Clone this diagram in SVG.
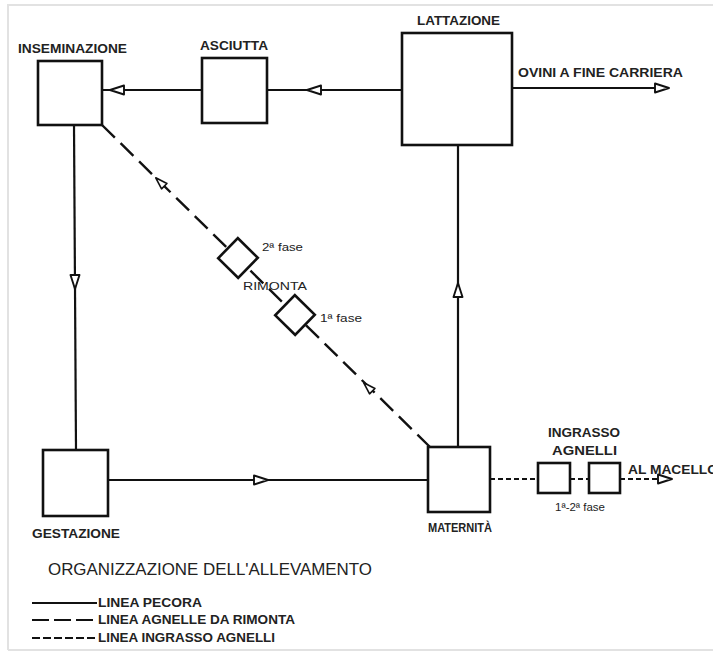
<svg xmlns="http://www.w3.org/2000/svg" xmlns:xlink="http://www.w3.org/1999/xlink" width="713" height="655" viewBox="0 0 713 655">
<style>
.box{fill:#fff;stroke:#111;stroke-width:2.6}
.ln{fill:none;stroke:#111;stroke-width:2.2}
.rim{stroke-dasharray:18 8;stroke-width:2.4}
.ing{stroke-dasharray:5 3}
.lbl{font-family:"Liberation Sans",Arial,sans-serif;font-weight:bold;font-size:12.5px;fill:#222}
.sm{font-family:"Liberation Sans",Arial,sans-serif;font-size:11.5px;fill:#222}
.title{font-family:"Liberation Sans",Arial,sans-serif;font-size:17px;fill:#222}
.leg{font-family:"Liberation Sans",Arial,sans-serif;font-weight:bold;font-size:12.5px;fill:#222}
</style>
<defs>
<path id="tri" d="M7,0 L-7,-4.5 L-7,4.5 Z" fill="#fff" stroke="#111" stroke-width="1.9" stroke-linejoin="round"/>
</defs>
<rect x="0" y="0" width="713" height="655" fill="#fff"/>
<path d="M8,650 L8,5 L713,5 M8,650 L713,650" fill="none" stroke="#e2e2e2" stroke-width="2"/>

<g id="connectors">
  <line class="ln" x1="202" y1="90" x2="102" y2="90"/>
  <use xlink:href="#tri" transform="translate(117,90) rotate(180)"/>
  <line class="ln" x1="402" y1="90" x2="267" y2="90"/>
  <use xlink:href="#tri" transform="translate(314,90) rotate(180)"/>
  <line class="ln" x1="512" y1="88" x2="662" y2="88"/>
  <use xlink:href="#tri" transform="translate(662,88)"/>
  <line class="ln" x1="458" y1="447" x2="458" y2="145"/>
  <use xlink:href="#tri" transform="translate(458,290) rotate(-90)"/>
  <line class="ln" x1="74" y1="125" x2="76" y2="450"/>
  <use xlink:href="#tri" transform="translate(75,282) rotate(90)"/>
  <line class="ln" x1="108" y1="480" x2="428" y2="480"/>
  <use xlink:href="#tri" transform="translate(261,480)"/>
  <line class="ln rim" x1="102" y1="125" x2="430" y2="447"/>
  <use xlink:href="#tri" transform="translate(160,182) rotate(224.5) scale(0.85)"/>
  <use xlink:href="#tri" transform="translate(368,387) rotate(224.5) scale(0.85)"/>
  <line class="ln ing" x1="490" y1="479" x2="538" y2="479"/>
  <line class="ln ing" x1="570" y1="479" x2="589" y2="479"/>
  <line class="ln ing" x1="620" y1="479" x2="660" y2="479"/>
  <use xlink:href="#tri" transform="translate(665,479)"/>
</g>

<g id="inseminazione">
  <rect class="box" x="38" y="61" width="64" height="64"/>
  <text class="lbl" x="18" y="52.5" textLength="109" lengthAdjust="spacingAndGlyphs">INSEMINAZIONE</text>
</g>
<g id="asciutta">
  <rect class="box" x="202" y="58" width="65" height="65"/>
  <text class="lbl" x="200" y="50" textLength="68" lengthAdjust="spacingAndGlyphs">ASCIUTTA</text>
</g>
<g id="lattazione">
  <rect class="box" x="402" y="33" width="110" height="112"/>
  <text class="lbl" x="417" y="25" textLength="83" lengthAdjust="spacingAndGlyphs">LATTAZIONE</text>
</g>
<g id="ovini">
  <text class="lbl" x="518" y="77" textLength="165" lengthAdjust="spacingAndGlyphs">OVINI A FINE CARRIERA</text>
</g>
<g id="gestazione">
  <rect class="box" x="43" y="450" width="65" height="66"/>
  <text class="lbl" x="32" y="538" textLength="88" lengthAdjust="spacingAndGlyphs">GESTAZIONE</text>
</g>
<g id="maternita">
  <rect class="box" x="428" y="447" width="62" height="65"/>
  <text class="lbl" x="428" y="532" textLength="64" lengthAdjust="spacingAndGlyphs">MATERNITÀ</text>
</g>
<g id="rimonta">
  <rect class="box" x="-14" y="-14" width="28" height="28" transform="translate(238,258) rotate(44.5)"/>
  <rect class="box" x="-14" y="-14" width="28" height="28" transform="translate(295,315) rotate(44.5)"/>
  <text class="sm" x="262" y="251" textLength="41" lengthAdjust="spacingAndGlyphs">2ª fase</text>
  <text class="sm" x="243" y="290" textLength="64" lengthAdjust="spacingAndGlyphs">RIMONTA</text>
  <text class="sm" x="320" y="322" textLength="42" lengthAdjust="spacingAndGlyphs">1ª fase</text>
</g>
<g id="ingrasso">
  <rect class="box" x="538" y="463" width="32" height="30"/>
  <rect class="box" x="589" y="463" width="31" height="30"/>
  <text class="lbl" x="548" y="437" textLength="72" lengthAdjust="spacingAndGlyphs">INGRASSO</text>
  <text class="lbl" x="552" y="455" textLength="65" lengthAdjust="spacingAndGlyphs">AGNELLI</text>
  <text class="sm" x="555" y="511" textLength="50" lengthAdjust="spacingAndGlyphs">1ª-2ª fase</text>
</g>
<g id="macello">
  <text class="lbl" x="628" y="474" textLength="90" lengthAdjust="spacingAndGlyphs">AL MACELLO</text>
</g>

<g id="legend">
  <text class="title" x="48" y="575" textLength="324" lengthAdjust="spacingAndGlyphs">ORGANIZZAZIONE DELL'ALLEVAMENTO</text>
  <line class="ln" x1="32" y1="603" x2="97" y2="603"/>
  <text class="leg" x="98" y="607" textLength="104" lengthAdjust="spacingAndGlyphs">LINEA PECORA</text>
  <line class="ln" x1="32" y1="620" x2="97" y2="620" stroke-dasharray="17 5"/>
  <text class="leg" x="98" y="624" textLength="197" lengthAdjust="spacingAndGlyphs">LINEA AGNELLE DA RIMONTA</text>
  <line class="ln" x1="32" y1="638" x2="97" y2="638" stroke-dasharray="8 3"/>
  <text class="leg" x="98" y="642" textLength="177" lengthAdjust="spacingAndGlyphs">LINEA INGRASSO AGNELLI</text>
</g>
</svg>
